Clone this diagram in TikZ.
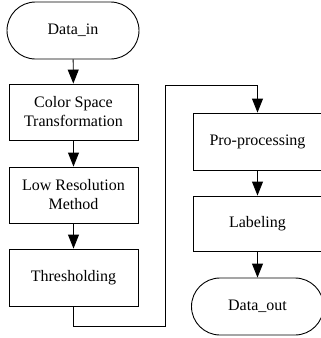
\documentclass[tikz,border=0pt]{standalone}
\usepackage{fontspec}
\setmainfont{Liberation Serif}
\usetikzlibrary{shapes.misc,arrows.meta}
\begin{document}
\begin{tikzpicture}[x=1pt,y=-1pt,
  every node/.style={font=\fontsize{16}{19}\selectfont, align=center, inner sep=0pt},
  stepbox/.style={draw, line width=0.9pt, minimum width=129pt, minimum height=56pt},
  terminal/.style={draw, line width=0.9pt, rounded rectangle, minimum width=132pt, minimum height=57pt},
  flow/.style={line width=0.9pt, -{Triangle[length=14pt,width=11pt]}},
  link/.style={line width=0.9pt}]
\useasboundingbox (0,0) rectangle (321,338);
\clip (0,0) rectangle (321,338);

% left column
\node[terminal] (in)   at (73,30.5)   {Data\_in};
\node[stepbox]  (csp)  at (73.5,112)  {Color Space\\Transformation};
\node[stepbox]  (low)  at (73.5,195)  {Low Resolution\\Method};
\node[stepbox, minimum height=57pt] (thr) at (73.5,277.5) {Thresholding};

% right column
\node[stepbox, minimum height=57pt] (pre) at (257.5,141.5) {Pro-processing};
\node[stepbox, minimum height=55pt] (lab) at (257.5,223.5) {Labeling};
\node[terminal] (out)  at (257.5,306.5) {Data\_out};

% route from the bottom of the left column to the top of the right one
\coordinate (c1) at (73.5,326);
\coordinate (c2) at (165.5,326);
\coordinate (c3) at (165.5,85.5);
\coordinate (c4) at (257.5,85.5);

\draw[flow] (in) -- (csp);
\draw[flow] (csp) -- (low);
\draw[flow] (low) -- (thr);
\draw[link] (thr.south) -- (c1) -- (c2) -- (c3) -- (c4);
\draw[flow] (c4) -- (pre.north);
\draw[flow] (pre) -- (lab);
\draw[flow] (lab) -- (out);
\end{tikzpicture}
\end{document}
